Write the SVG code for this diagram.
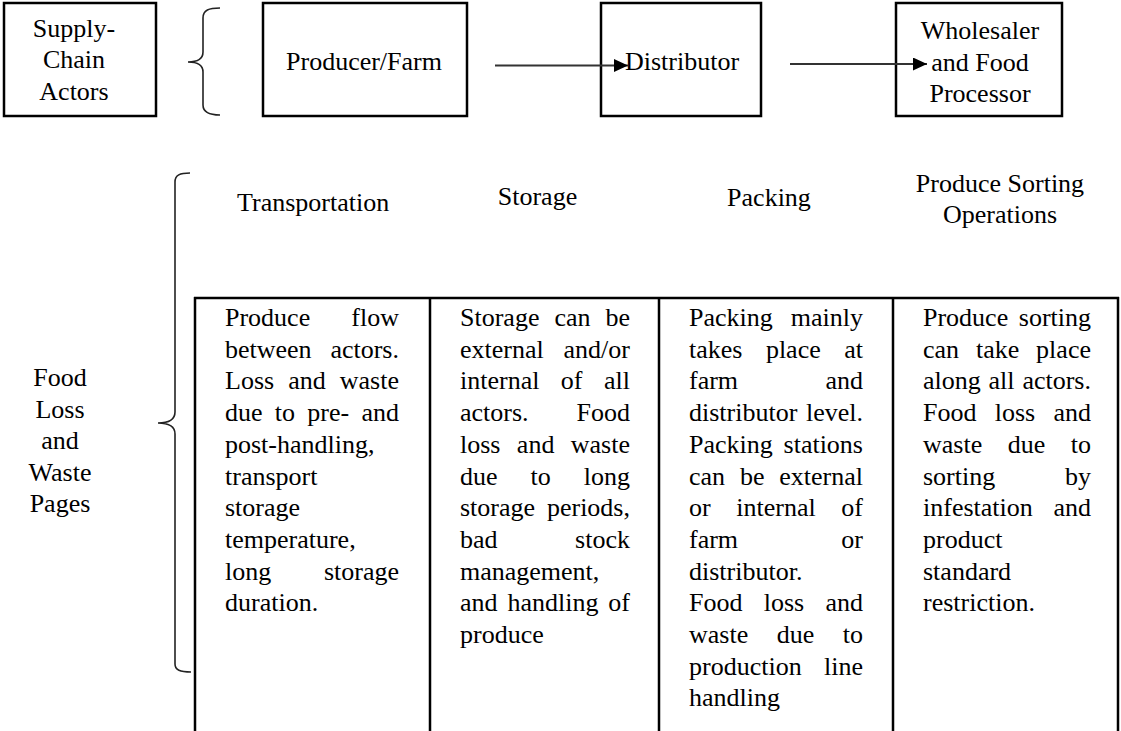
<svg xmlns="http://www.w3.org/2000/svg" width="1121" height="731" viewBox="0 0 1121 731" font-family="'Liberation Serif', 'Times New Roman', Times, serif" font-size="26">
<style>
text{font-family:'Liberation Serif','Times New Roman',Times,serif;font-size:26px;fill:#000}
.c{text-anchor:middle}
.box{fill:#fff;stroke:#000;stroke-width:2.5}
.tbl{stroke:#000;stroke-width:2.5;fill:none}
.brace{fill:none;stroke:#222;stroke-width:1.6}
.conn{stroke:#333;stroke-width:1.8;fill:none}
</style>
<defs>
<marker id="ah" markerWidth="14" markerHeight="13" refX="14" refY="6.5" orient="auto" markerUnits="userSpaceOnUse">
<path d="M0,0 L14,6.5 L0,13 z" fill="#000"/>
</marker>
</defs>
<rect width="1121" height="731" fill="#fff"/>

<g id="supply-chain-actors">
<rect class="box" x="4" y="3" width="152" height="113"/>
<text class="c" x="74" y="37">Supply-</text>
<text class="c" x="74" y="68">Chain</text>
<text class="c" x="74" y="100">Actors</text>
</g>

<g id="brace-actors">
<path class="brace" d="M220,8 C209,8 203,10 203,18 L203,52 C203,59 198,62 188,62 C198,62 203,65 203,72 L203,105 C203,112 209,115 220,115"/>
</g>

<g id="producer">
<rect class="box" x="263" y="3" width="204" height="113"/>
<text class="c" x="364" y="70">Producer/Farm</text>
</g>

<g id="distributor">
<rect class="box" x="601" y="3" width="160" height="113"/>
<text x="625" y="70">Distributor</text>
</g>

<g id="wholesaler">
<rect class="box" x="896" y="3" width="166" height="113"/>
<text class="c" x="980" y="39">Wholesaler</text>
<text class="c" x="980" y="71">and Food</text>
<text class="c" x="980" y="102">Processor</text>
</g>

<g id="connectors">
<line class="conn" x1="495" y1="65.5" x2="628" y2="65.5" marker-end="url(#ah)"/>
<line class="conn" x1="790" y1="64" x2="927" y2="64" marker-end="url(#ah)"/>
</g>

<g id="food-loss-label">
<text class="c" x="60" y="386">Food</text>
<text class="c" x="60" y="417.5">Loss</text>
<text class="c" x="60" y="449">and</text>
<text class="c" x="60" y="481">Waste</text>
<text class="c" x="60" y="512">Pages</text>
</g>

<g id="brace-pages">
<path class="brace" d="M190,173 C180,173 175,175 175,182 L175,412 C175,419 170,423 158,423 C170,423 175,427 175,434 L175,664 C175,670 180,672 191,672"/>
</g>

<g id="headers">
<text x="237" y="211">Transportation</text>
<text class="c" x="537.5" y="205">Storage</text>
<text class="c" x="769" y="206">Packing</text>
<text class="c" x="1000" y="192">Produce Sorting</text>
<text class="c" x="1000" y="223">Operations</text>
</g>

<g id="table">
<line class="tbl" x1="194" y1="298" x2="1119" y2="298"/>
<line class="tbl" x1="195" y1="297" x2="195" y2="731"/>
<line class="tbl" x1="430" y1="297" x2="430" y2="731"/>
<line class="tbl" x1="659" y1="297" x2="659" y2="731"/>
<line class="tbl" x1="893" y1="297" x2="893" y2="731"/>
<line class="tbl" x1="1118" y1="297" x2="1118" y2="731"/>
</g>

<g id="cell-transportation">
<text x="225" y="326" word-spacing="34.64">Produce flow</text>
<text x="225" y="357.7" word-spacing="12.28">between actors.</text>
<text x="225" y="389.4" word-spacing="7.57">Loss and waste</text>
<text x="225" y="421.1" word-spacing="5.77">due to pre- and</text>
<text x="225" y="452.8">post-handling,</text>
<text x="225" y="484.5">transport</text>
<text x="225" y="516.2">storage</text>
<text x="225" y="547.9">temperature,</text>
<text x="225" y="579.6" word-spacing="46.18">long storage</text>
<text x="225" y="611.3">duration.</text>
</g>

<g id="cell-storage">
<text x="460" y="326" word-spacing="8.47">Storage can be</text>
<text x="460" y="357.7" word-spacing="13.32">external and/or</text>
<text x="460" y="389.4" word-spacing="14.96">internal of all</text>
<text x="460" y="421.1" word-spacing="41.46">actors. Food</text>
<text x="460" y="452.8" word-spacing="9.9">loss and waste</text>
<text x="460" y="484.5" word-spacing="26.5">due to long</text>
<text x="460" y="516.2" word-spacing="5.37">storage periods,</text>
<text x="460" y="547.9" word-spacing="71.07">bad stock</text>
<text x="460" y="579.6">management,</text>
<text x="460" y="611.3" word-spacing="3.4">and handling of</text>
<text x="460" y="643">produce</text>
</g>

<g id="cell-packing">
<text x="689" y="326" word-spacing="11.5">Packing mainly</text>
<text x="689" y="357.7" word-spacing="16.97">takes place at</text>
<text x="689" y="389.4" word-spacing="80.87">farm and</text>
<text x="689" y="421.1" word-spacing="2.11">distributor level.</text>
<text x="689" y="452.8" word-spacing="4.27">Packing stations</text>
<text x="689" y="484.5" word-spacing="8.31">can be external</text>
<text x="689" y="516.2" word-spacing="19.13">or internal of</text>
<text x="689" y="547.9" word-spacing="96.75">farm or</text>
<text x="689" y="579.6">distributor.</text>
<text x="689" y="611.3" word-spacing="14.77">Food loss and</text>
<text x="689" y="643" word-spacing="22.01">waste due to</text>
<text x="689" y="674.7" word-spacing="15.84">production line</text>
<text x="689" y="706.4">handling</text>
</g>

<g id="cell-sorting">
<text x="923" y="326" word-spacing="4.07">Produce sorting</text>
<text x="923" y="357.7" word-spacing="10.37">can take place</text>
<text x="923" y="389.4" word-spacing="1.32">along all actors.</text>
<text x="923" y="421.1" word-spacing="11.77">Food loss and</text>
<text x="923" y="452.8" word-spacing="19.01">waste due to</text>
<text x="923" y="484.5" word-spacing="63.27">sorting by</text>
<text x="923" y="516.2" word-spacing="14.18">infestation and</text>
<text x="923" y="547.9">product</text>
<text x="923" y="579.6">standard</text>
<text x="923" y="611.3">restriction.</text>
</g>
</svg>
